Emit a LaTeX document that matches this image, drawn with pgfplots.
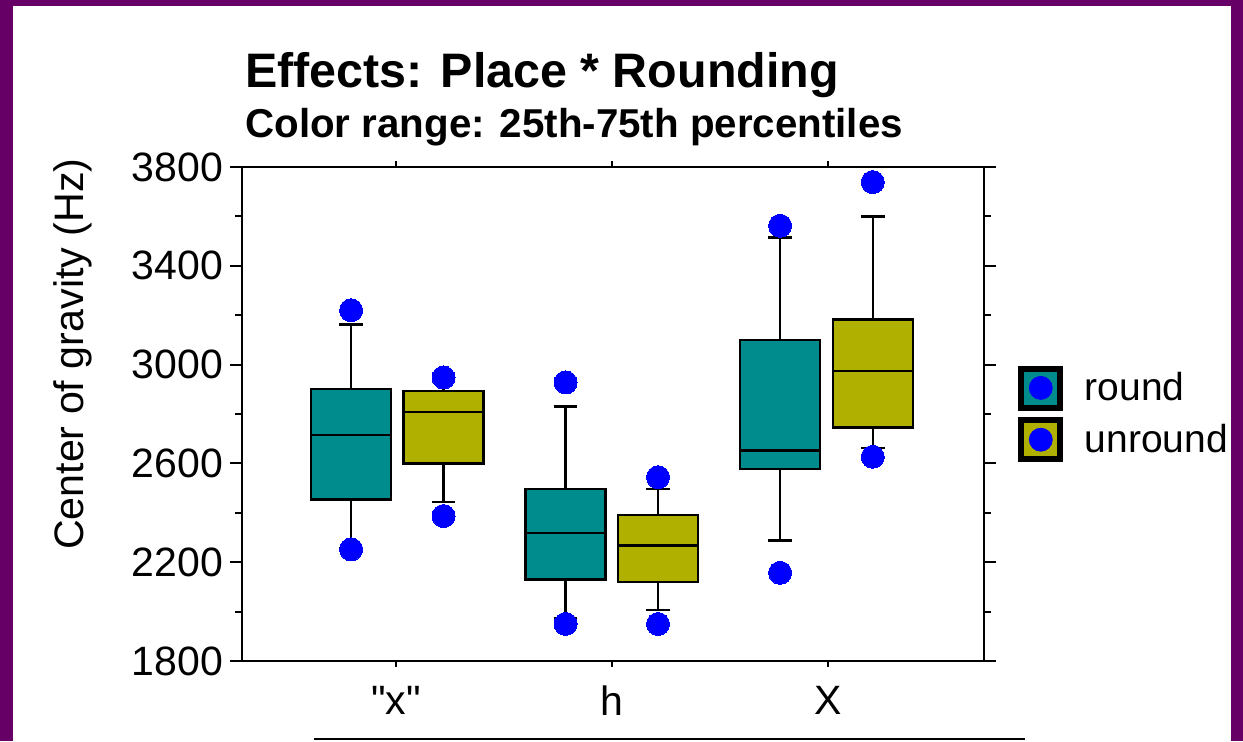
\documentclass[border=0pt]{standalone}
\usepackage{fontspec}
\setmainfont{Liberation Sans}[Ligatures=TeXOff]
\usepackage{pgfplots}
\pgfplotsset{compat=1.18}
\definecolor{roundc}{RGB}{0,140,140}
\definecolor{unroundc}{RGB}{176,176,0}
\definecolor{framec}{RGB}{102,0,102}
\definecolor{dotc}{RGB}{0,0,255}
\begin{document}
\begin{tikzpicture}
% canvas
\fill[framec] (0pt,0pt) rectangle (621.5pt,-370.5pt);
\fill[white] (6.5pt,-3pt) rectangle (615.5pt,-370.5pt);
\draw[line width=1pt] (157pt,-369.5pt) -- (512.5pt,-369.5pt);
\node[anchor=base west, inner sep=0pt, font=\fontsize{24.2}{24}\selectfont\bfseries] at (122.5pt,-43.5pt) {Effects: Place * Rounding};
\node[anchor=base west, inner sep=0pt, font=\fontsize{20.15}{20}\selectfont\bfseries] at (122.5pt,-68.5pt) {Color range: 25th-75th percentiles};
\begin{axis}[
  at={(121pt,-330.5pt)}, anchor=south west,
  scale only axis, width=371pt, height=247pt,
  xmin=0.287, xmax=3.722, ymin=1800, ymax=3800,
  axis line style={line width=1pt},
  tick style={line width=1pt, black},
  tick align=outside,
  major tick length=6pt, minor tick length=3.5pt,
  xtick={1,2,3}, xticklabels={{"x"},{h},{X}},
  xtick style={/pgfplots/major tick length=3pt},
  ytick={1800,2200,2600,3000,3400,3800},
  minor ytick={2000,2400,2800,3200,3600},
  /pgf/number format/assume math mode=true,
  /pgf/number format/set thousands separator={},
  ticklabel style={font=\fontsize{20.5}{20.5}\selectfont},
  yticklabel style={xshift=0pt},
  xticklabel style={yshift=-3pt},
  ylabel={Center of gravity (Hz)},
  ylabel style={at={(axis description cs:-0.228,0.621)}, anchor=center, font=\fontsize{20.6}{20.6}\selectfont},
  legend style={at={(axis description cs:1.0458,0.599)}, anchor=north west, draw=none, fill=none, inner sep=0pt, row sep=3.5pt, font=\fontsize{19.5}{19.5}\selectfont},
  legend cell align=left,
  unbounded coords=jump,
]
\addlegendimage{legend image code/.code={\fill[black] (0pt,-11pt) rectangle (22pt,11pt); \fill[roundc] (3pt,-8pt) rectangle (19pt,8pt); \fill[dotc] (11pt,0pt) circle (5.75pt); \path[draw=none, fill=none] (0pt,0pt) -- (31pt,0pt);}}
\addlegendentry{round}
\addlegendimage{legend image code/.code={\fill[black] (0pt,-11pt) rectangle (22pt,11pt); \fill[unroundc] (3pt,-8pt) rectangle (19pt,8pt); \fill[dotc] (11pt,0pt) circle (5.75pt); \path[draw=none, fill=none] (0pt,0pt) -- (31pt,0pt);}}
\addlegendentry{unround}
% boxes (25th-75th percentiles)
\addplot[forget plot, fill=roundc, draw=black, line width=1.2pt] coordinates {(0.607,2454) (0.977,2454) (0.977,2902) (0.607,2902)} -- cycle;
\addplot[forget plot, fill=unroundc, draw=black, line width=1.2pt] coordinates {(1.035,2600) (1.405,2600) (1.405,2893) (1.035,2893)} -- cycle;
\addplot[forget plot, fill=roundc, draw=black, line width=1.2pt] coordinates {(1.600,2130) (1.970,2130) (1.970,2496) (1.600,2496)} -- cycle;
\addplot[forget plot, fill=unroundc, draw=black, line width=1.2pt] coordinates {(2.028,2120) (2.398,2120) (2.398,2391) (2.028,2391)} -- cycle;
\addplot[forget plot, fill=roundc, draw=black, line width=1.2pt] coordinates {(2.593,2578) (2.963,2578) (2.963,3100) (2.593,3100)} -- cycle;
\addplot[forget plot, fill=unroundc, draw=black, line width=1.2pt] coordinates {(3.022,2746) (3.392,2746) (3.392,3182) (3.022,3182)} -- cycle;
% medians, whiskers and caps
\addplot[forget plot, draw=black, line width=1.2pt] coordinates {
(0.607,2714) (0.977,2714) (nan,nan)
(0.792,2902) (0.792,3163) (nan,nan) (0.737,3163) (0.847,3163) (nan,nan)
(0.792,2454) (0.792,2256) (nan,nan) (0.737,2256) (0.847,2256) (nan,nan)
(1.035,2809) (1.405,2809) (nan,nan)
(1.22,2893) (1.22,2943) (nan,nan) (1.165,2943) (1.275,2943) (nan,nan)
(1.22,2600) (1.22,2445) (nan,nan) (1.165,2445) (1.275,2445) (nan,nan)
(1.600,2319) (1.970,2319) (nan,nan)
(1.785,2496) (1.785,2830) (nan,nan) (1.730,2830) (1.840,2830) (nan,nan)
(1.785,2130) (1.785,1975) (nan,nan) (1.730,1975) (1.840,1975) (nan,nan)
(2.028,2268) (2.398,2268) (nan,nan)
(2.213,2391) (2.213,2496) (nan,nan) (2.158,2496) (2.268,2496) (nan,nan)
(2.213,2120) (2.213,2006) (nan,nan) (2.158,2006) (2.268,2006) (nan,nan)
(2.593,2653) (2.963,2653) (nan,nan)
(2.778,3100) (2.778,3515) (nan,nan) (2.723,3515) (2.833,3515) (nan,nan)
(2.778,2578) (2.778,2288) (nan,nan) (2.723,2288) (2.833,2288) (nan,nan)
(3.022,2975) (3.392,2975) (nan,nan)
(3.207,3182) (3.207,3599) (nan,nan) (3.152,3599) (3.262,3599) (nan,nan)
(3.207,2746) (3.207,2662) (nan,nan) (3.152,2662) (3.262,2662)
};
% extreme points
\addplot[forget plot, only marks, mark=*, mark size=5.75pt, mark options={fill=dotc, draw=dotc, line width=0pt}] coordinates {
(0.792,3220) (0.792,2252) (1.22,2948) (1.22,2387)
(1.785,2928) (1.785,1950) (2.213,2544) (2.213,1950)
(2.778,3562) (2.778,2157) (3.207,3739) (3.207,2627)};
\end{axis}
\end{tikzpicture}
\end{document}
